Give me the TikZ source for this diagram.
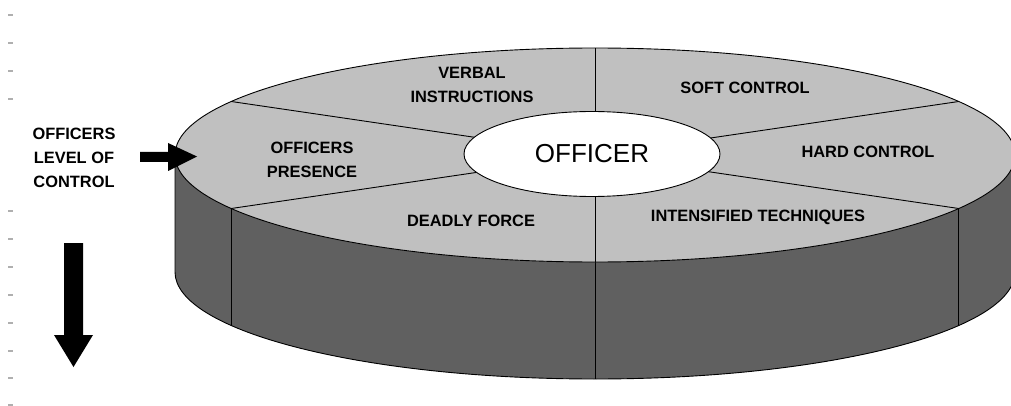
\documentclass[tikz,border=0pt]{standalone}
\usepackage{fontspec}
\setmainfont{Liberation Sans}
\usetikzlibrary{shapes.geometric}
\definecolor{topgrey}{RGB}{192,192,192}
\definecolor{sidegrey}{RGB}{96,96,96}
\definecolor{tickgrey}{RGB}{175,175,175}
\begin{document}
\begin{tikzpicture}[x=1pt,y=-1pt,
  outline/.style={draw=black,line width=0.9pt,line join=round},
  lbl/.style={align=center,font=\bfseries\fontsize{16.4}{24}\selectfont,inner sep=0pt},
  tick/.style={draw=tickgrey,line width=1.2pt},
  blockarrow/.style={fill=black,draw=none}]
\useasboundingbox (0,0) rectangle (1011,406);
% left ticks
\foreach \yy in {15,43,71,99,211,239,267,295,323,351,378,405}
  \draw[tick] (8,\yy) -- (13,\yy);
% side face
\fill[sidegrey] (175,155) -- (175,272) arc[start angle=180,end angle=0,x radius=420,y radius=107]
  -- (1015,155) arc[start angle=0,end angle=180,x radius=420,y radius=107] -- cycle;
\draw[outline] (175,155) -- (175,272) arc[start angle=180,end angle=0,x radius=420,y radius=107] -- (1015,155);
% side dividers
\foreach \t in {30,90,150}
  \draw[outline] ({595+420*cos(\t)},{155+107*sin(\t)}) -- ({595+420*cos(\t)},{272+107*sin(\t)});
% top face
\coordinate (c) at (595,155);
\draw[outline,fill=topgrey] (c) ellipse[x radius=420,y radius=107];
\foreach \t in {30,90,150,210,270,330}
  \draw[outline] (c) -- ({595+420*cos(\t)},{155+107*sin(\t)});
\node[ellipse,outline,fill=white,minimum width=256pt,minimum height=85pt,inner sep=0pt,
  font=\fontsize{26}{30}\selectfont] (officer) at (592,154) {OFFICER};
% sector labels
\node[lbl] (verbal) at (472,85) {VERBAL\\INSTRUCTIONS};
\node[lbl] (soft) at (745,88) {SOFT CONTROL};
\node[lbl] (presence) at (312,160) {OFFICERS\\PRESENCE};
\node[lbl] (hard) at (868,152) {HARD CONTROL};
\node[lbl] (deadly) at (471,221) {DEADLY FORCE};
\node[lbl] (intens) at (758,217) {INTENSIFIED TECHNIQUES};
% left label
\node[lbl] (level) at (74,158) {OFFICERS\\LEVEL OF\\CONTROL};
% arrows
\fill[blockarrow] (140,152) -- (168,152) -- (168,143) -- (197,156.5) -- (168,171) -- (168,162) -- (140,162) -- cycle;
\fill[blockarrow] (64,243) -- (83,243) -- (83,335) -- (93,335) -- (73.5,367) -- (54,335) -- (64,335) -- cycle;
\end{tikzpicture}
\end{document}
